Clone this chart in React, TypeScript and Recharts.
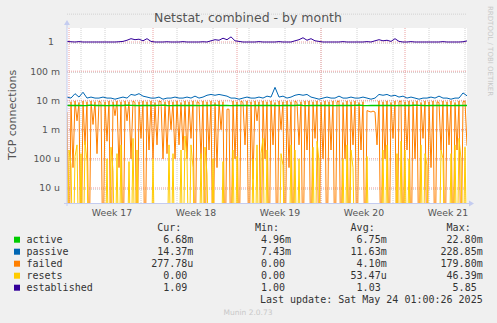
import React from 'react';
import { ComposedChart, Line, XAxis, YAxis, CartesianGrid } from 'recharts';

// time axis in hours from the left edge of the graph (2 h per pixel)
const weekLabels = ['Week 17', 'Week 18', 'Week 19', 'Week 20', 'Week 21'];
const weekLabelHours = [90, 258, 426, 594, 762];
const weekStartHours = [4, 172, 340, 508, 676];
const dayStartHours = Array.from({ length: 34 }, (_, k) => 4 + 24 * k);

const decadeTicks = [1e-5, 1e-4, 1e-3, 1e-2, 1e-1, 1];
const minorGrid = [-6, -5, -4, -3, -2, -1, 0].flatMap((n) =>
  [2, 3, 4, 5, 6, 7, 8, 9].map((k) => k * Math.pow(10, n))
);

// active, milli per second, every 8 h
const activeMilli = [
  6.8, 6.7, 6.7, 6.8, 6.6, 6.7, 6.9, 6.7, 6.7, 6.8,
  6.6, 6.7, 6.8, 6.7, 6.7, 6.9, 6.8, 6.7, 6.6, 6.7,
  6.8, 6.7, 6.7, 6.8, 6.9, 6.7, 6.6, 6.7, 6.8, 6.7,
  6.7, 6.8, 6.7, 6.6, 6.7, 6.8, 6.7, 6.9, 6.7, 6.7,
  6.8, 6.6, 6.7, 6.7, 6.8, 6.7, 6.6, 6.7, 6.8, 6.7,
  6.7, 6.8, 6.7, 6.6, 6.7, 6.8, 6.7, 6.7, 6.9, 6.7,
  6.6, 6.7, 6.8, 6.7, 6.7, 6.8, 6.7, 6.6, 6.7, 6.8,
  6.7, 6.7, 6.8, 6.9, 6.7, 6.6, 6.7, 6.8, 6.7, 6.7,
  6.8, 6.7, 6.6, 6.7, 6.8, 6.7, 6.7, 6.9, 6.8, 6.7,
  6.6, 6.7, 6.8, 6.7, 6.7, 6.8, 6.6, 6.7, 6.7, 6.8,
  6.68,
];

// passive, milli per second, every 8 h
const passiveMilli = [
  13, 12, 17, 13, 19, 12, 13, 12, 12, 13,
  12, 12, 11, 12, 13, 12, 16, 15, 17, 14,
  13, 12, 12, 13, 11, 12, 12, 13, 12, 12,
  13, 12, 14, 12, 13, 15, 16, 15, 16, 15,
  14, 12, 12, 11, 12, 13, 12, 12, 13, 12,
  14, 13, 28, 13, 14, 12, 13, 15, 16, 15,
  16, 13, 12, 11, 12, 13, 12, 12, 14, 12,
  12, 13, 12, 12, 13, 12, 11, 12, 16, 15,
  16, 14, 15, 13, 14, 12, 13, 12, 11, 12,
  12, 13, 12, 14, 12, 12, 11, 12, 12, 18,
  14.37,
];

// failed, milli per second, every 4 h
const failedMilli = [
  4, 0, 9, 0.05, 9.5, 2, 8.5, 0, 9.5, 0.3,
  9, 0, 9.5, 1.5, 9, 0.15, 9.5, 8.5, 0, 9,
  0.4, 9.5, 0, 9, 3, 9.5, 0.05, 9, 0, 9.5,
  2, 9, 0.1, 9.5, 8.5, 0, 9, 0.5, 9.5, 0,
  9, 0.2, 9.5, 0.1, 8.5, 0.3, 9.5, 9, 0.1, 9,
  0.15, 9.5, 1, 9, 0.1, 9.5, 0.3, 8.5, 0.2, 9.5,
  0.1, 9, 0.5, 9.5, 0, 9, 8.5, 0.1, 9.5, 0,
  9, 0.2, 9.5, 0, 8.5, 0.05, 9.5, 1, 9, 0,
  5, 5, 0, 9.5, 0.1, 9, 0, 9.5, 8.5, 0.3,
  9.5, 0, 9, 0.02, 9.5, 2, 9, 0, 9.5, 0.1,
  9, 0, 9.5, 0.3, 8.5, 0, 9.5, 1, 9, 0,
  9.5, 0.05, 9, 0, 9.5, 8.5, 0.3, 9, 0, 9.5,
  0.2, 9.5, 0, 9, 0.5, 9.5, 0, 8.5, 0.1, 9.5,
  0, 9, 0.2, 9.5, 0, 9, 9.5, 0, 8.5, 0.1,
  9.5, 0, 9, 0.3, 9.5, 0, 8.5, 0.2, 9, 0,
  4.5, 4.2, 4, 4.3, 4, 0.3, 9.5, 0, 9, 0.1,
  9.5, 0, 8.5, 0.5, 9.5, 0, 9, 9.5, 0, 9,
  0.2, 9.5, 0, 9, 0.1, 9.5, 0, 8.5, 0.5, 9.5,
  0, 9, 0.05, 9.5, 0, 9, 8.5, 0.2, 9.5, 0,
  9, 0.3, 9.5, 0, 8.5, 0.2, 9.5, 0, 9, 9.5,
  0.278,
];

// resets, micro per second, every 4 h
const resetsMicro = [
  0, 200, 60, 0, 120, 300, 0, 150, 0, 400,
  80, 0, 0, 0, 0, 0, 0, 0, 0, 0,
  100, 0, 250, 40, 0, 150, 0, 300, 0, 0,
  0, 80, 0, 500, 0, 200, 0, 0, 0, 0,
  0, 0, 0, 100, 0, 0, 0, 0, 0, 0,
  0, 300, 0, 150, 0, 0, 0, 200, 0, 600,
  100, 0, 300, 50, 0, 0, 0, 150, 0, 250,
  30, 0, 0, 100, 0, 0, 0, 0, 80, 0,
  0, 0, 0, 200, 0, 120, 0, 0, 0, 0,
  0, 0, 0, 100, 0, 300, 0, 150, 500, 0,
  200, 0, 0, 0, 0, 0, 0, 150, 60, 0,
  0, 0, 300, 0, 200, 0, 100, 0, 0, 0,
  0, 0, 0, 250, 0, 400, 80, 0, 0, 0,
  0, 0, 0, 0, 0, 0, 0, 0, 100, 0,
  300, 0, 200, 50, 0, 0, 0, 0, 0, 0,
  120, 0, 0, 0, 0, 0, 0, 0, 200, 0,
  300, 0, 0, 0, 0, 150, 0, 400, 0, 200,
  0, 100, 0, 0, 0, 0, 0, 300, 0, 150,
  60, 0, 0, 0, 0, 0, 0, 200, 100, 0,
  0, 0, 150, 0, 300, 0, 500, 100, 0, 250,
  0,
];

// established, per second, every 8 h
const established = [
  1.05, 1.02, 1.0, 1.03, 1.0, 1.0, 1.0, 1.0, 1.0, 1.0,
  1.0, 1.0, 1.0, 1.02, 1.05, 1.15, 1.3, 1.2, 1.25, 1.1,
  1.3, 1.05, 1.0, 1.0, 1.0, 1.02, 1.0, 1.0, 1.0, 1.03,
  1.0, 1.0, 1.0, 1.0, 1.02, 1.0, 1.1, 1.2, 1.15, 1.35,
  1.2, 1.5, 1.1, 1.05, 1.0, 1.0, 1.0, 1.0, 1.03, 1.0,
  1.0, 1.0, 1.0, 1.03, 1.0, 1.0, 1.0, 1.1, 1.2, 1.4,
  1.15, 1.3, 1.1, 1.05, 1.0, 1.0, 1.0, 1.0, 1.0, 1.03,
  1.0, 1.0, 1.0, 1.0, 1.0, 1.03, 1.0, 1.1, 1.2, 1.1,
  1.15, 1.05, 1.3, 1.05, 1.0, 1.0, 1.03, 1.0, 1.0, 1.0,
  1.0, 1.0, 1.0, 1.0, 1.03, 1.0, 1.0, 1.0, 1.0, 1.02,
  1.09,
];

const legendNames = ['active', 'passive', 'failed', 'resets', 'established'];
const legendColors = ['#00cc00', '#0066b3', '#ff8000', '#ffcc00', '#330099'];
const curValues = ['6.68m', '14.37m', '277.78u', '0.00', '1.09'];
const minValues = ['4.96m', '7.43m', '0.00', '0.00', '1.00'];
const avgValues = ['6.75m', '11.63m', '4.10m', '53.47u', '1.03'];
const maxValues = ['22.80m', '228.85m', '179.80m', '46.39m', '5.85'];

// log axis cannot show zero: push zeros far below the bottom, clipped like rrdtool
const FLOOR = 1e-8;
const toPoints = (values: number[], step: number, unit: number) =>
  values.map((v, i) => ({ h: i * step, v: Math.max(v * unit, FLOOR) }));

const activeData = toPoints(activeMilli, 8, 1e-3);
const passiveData = toPoints(passiveMilli, 8, 1e-3);
const failedData = toPoints(failedMilli, 4, 1e-3);
const resetsData = toPoints(resetsMicro, 4, 1e-6);
const establishedData = toPoints(established, 8, 1);

const sans = 'DejaVu Sans, sans-serif';
const mono = 'DejaVu Sans Mono, monospace';

const logLabel = (v: number) => {
  if (v >= 1) return '1';
  if (v >= 1e-3) return `${Math.round(v * 1e3)} m`;
  return `${Math.round(v * 1e6)} u`;
};

const YTick = (props: any) => {
  const { x, y, payload } = props;
  const label = logLabel(payload.value);
  return (
    <text x={label === '1' ? x - 6 : x} y={y + 3.4} textAnchor="end" fontSize={9.3} fontFamily={sans} fill="#555">
      {label}
    </text>
  );
};

const XTick = (props: any) => {
  const { x, y, payload } = props;
  const idx = weekLabelHours.indexOf(payload.value);
  return (
    <text x={x} y={y + 7} textAnchor="middle" fontSize={9.3} fontFamily={sans} fill="#555">
      {weekLabels[idx]}
    </text>
  );
};

const colEnds = [193.3, 291, 386.7, 482.7];
const colHeaders = ['Cur:', 'Min:', 'Avg:', 'Max:'];

// unitless values keep a trailing blank in rrdtool's legend
const valueEnd = (end: number, s: string) => (/[a-z]$/.test(s) ? end : end - 6);

function Overlay() {
  const axisColor = '#c4ccf0';
  return (
    <svg width={497} height={323} style={{ position: 'absolute', left: 0, top: 0, pointerEvents: 'none' }}>
      <text x={248} y={22} textAnchor="middle" fontSize={12.5} fontFamily={sans} fill="#555">
        Netstat, combined - by month
      </text>
      <text
        transform="translate(488,6) rotate(90)"
        fontSize={7}
        fontFamily={sans}
        fill="#c8c8c8"
      >
        RRDTOOL / TOBI OETIKER
      </text>
      <text
        transform="translate(16,115) rotate(-90)"
        textAnchor="middle"
        fontSize={11}
        fontFamily={sans}
        fill="#555"
      >
        TCP connections
      </text>

      <line x1={67} y1={206} x2={67} y2={24} stroke={axisColor} strokeWidth={1} />
      <polygon points="64,25 70,25 67,20" fill={axisColor} />
      <line x1={64} y1={203.5} x2={470} y2={203.5} stroke={axisColor} strokeWidth={1} />
      <polygon points="469,200.5 469,206.5 474,203.5" fill={axisColor} />

      {colHeaders.map((h, i) => (
        <text key={h} x={colEnds[i] - 12} y={231} textAnchor="end" fontSize={10} fontFamily={mono} fill="#333">
          {h}
        </text>
      ))}
      {legendNames.map((name, r) => {
        const y = 243.2 + r * 12;
        const cols = [curValues[r], minValues[r], avgValues[r], maxValues[r]];
        return (
          <g key={name}>
            <rect x={14} y={y - 6.5} width={6} height={6} fill={legendColors[r]} />
            <text x={26.5} y={y} fontSize={10} fontFamily={mono} fill="#333">
              {name}
            </text>
            {cols.map((s, c) => (
              <text key={c} x={valueEnd(colEnds[c], s)} y={y} textAnchor="end" fontSize={10} fontFamily={mono} fill="#333">
                {s}
              </text>
            ))}
          </g>
        );
      })}
      <text x={482.7} y={303} textAnchor="end" fontSize={10} fontFamily={mono} fill="#333">
        Last update: Sat May 24 01:00:26 2025
      </text>
      <text x={248} y={314.5} textAnchor="middle" fontSize={7.5} fontFamily={sans} fill="#c8c8c8">
        Munin 2.0.73
      </text>
    </svg>
  );
}

export default function App() {
  return (
    <div style={{ position: 'fixed', left: 0, top: 0, width: 497, height: 323, background: '#f0f0f0' }}>
      <ComposedChart
        width={497}
        height={323}
        margin={{ top: 28, right: 30, bottom: 100, left: 7 }}
      >
        <CartesianGrid
          fill="#ffffff"
          fillOpacity={1}
          stroke="#d2d2d2"
          strokeDasharray="1 1"
          horizontalValues={minorGrid}
          verticalValues={dayStartHours}
        />
        <CartesianGrid
          stroke="#eca0a0"
          strokeDasharray="1 1"
          horizontalValues={decadeTicks}
          verticalValues={weekStartHours}
        />
        <XAxis
          type="number"
          dataKey="h"
          domain={[0, 800]}
          ticks={weekLabelHours}
          tick={<XTick />}
          axisLine={false}
          tickLine={false}
          tickSize={4}
          tickMargin={2}
          height={20}
          allowDataOverflow
        />
        <YAxis
          type="number"
          dataKey="v"
          scale="log"
          domain={[3.06e-6, 3.02]}
          ticks={decadeTicks}
          tick={<YTick />}
          axisLine={false}
          tickLine={false}
          tickSize={5}
          tickMargin={2}
          width={60}
          allowDataOverflow
        />
        <Line id="passive" name="passive" data={passiveData} dataKey="v" stroke="#0066b3" strokeWidth={1} dot={false} isAnimationActive={false} />
        <Line id="failed" name="failed" data={failedData} dataKey="v" stroke="#ff8000" strokeWidth={1} dot={false} isAnimationActive={false} />
        <Line id="resets" name="resets" data={resetsData} dataKey="v" stroke="#ffcc00" strokeWidth={1} dot={false} isAnimationActive={false} />
        <Line id="active" name="active" data={activeData} dataKey="v" stroke="#00cc00" strokeWidth={1.3} dot={false} isAnimationActive={false} />
        <Line id="established" name="established" data={establishedData} dataKey="v" stroke="#330099" strokeWidth={1} dot={false} isAnimationActive={false} />
      </ComposedChart>
      <Overlay />
    </div>
  );
}
